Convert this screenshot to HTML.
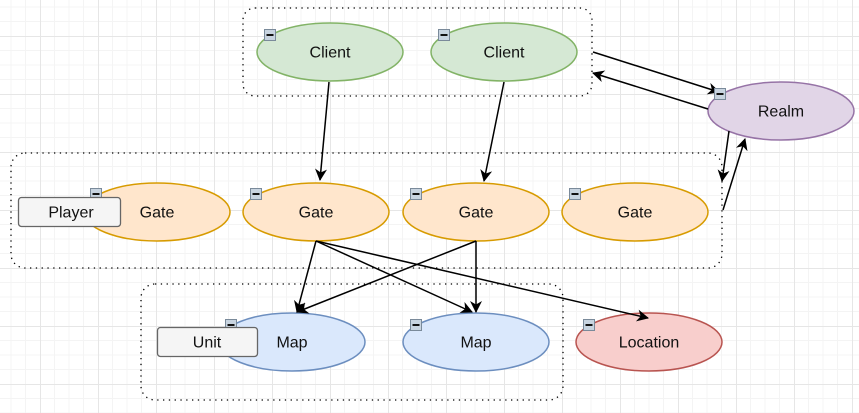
<!DOCTYPE html>
<html><head><style>
body{margin:0;background:#fff}
svg{display:block}
text{font-family:"Liberation Sans",sans-serif;font-size:16px;fill:#111;text-anchor:middle;dominant-baseline:central}
</style></head><body>
<svg width="859" height="413" viewBox="0 0 859 413" xmlns="http://www.w3.org/2000/svg">
<defs>
<pattern id="g" x="40" y="36" width="58" height="58" patternUnits="userSpaceOnUse">
<path d="M14.5 0V58M29 0V58M43.5 0V58M0 14.5H58M0 29H58M0 43.5H58" stroke="#f4f4f4" stroke-width="1"/>
<path d="M0.5 0V58M0 0.5H58" stroke="#e6e6e6" stroke-width="1"/>
</pattern>
<marker id="a" markerWidth="14" markerHeight="14" refX="11" refY="6" orient="auto" markerUnits="userSpaceOnUse">
<path d="M0 0L12 6L0 12L3.5 6Z" fill="#000"/>
</marker>
<g id="m"><rect x="0.5" y="0.5" width="11" height="11" fill="#c8d4e0" stroke="#7a8a9a"/><rect x="2.5" y="5" width="7" height="2" fill="#111"/></g>
</defs>
<rect width="859" height="413" fill="url(#g)"/>
<g fill="none" stroke="#000" stroke-width="1.3" stroke-dasharray="1.3 4.5">
<rect x="243" y="8" width="349" height="88" rx="12"/>
<rect x="11" y="153" width="711" height="115" rx="14"/>
<rect x="141" y="284" width="422" height="116" rx="14"/>
</g>
<g stroke-width="1.5">
<ellipse cx="330" cy="52" rx="73" ry="29" fill="#d5e8d4" stroke="#82b366"/>
<ellipse cx="504" cy="52" rx="73" ry="29" fill="#d5e8d4" stroke="#82b366"/>
<ellipse cx="781" cy="111" rx="73" ry="29" fill="#e1d5e7" stroke="#9673a6"/>
<ellipse cx="157" cy="212" rx="73" ry="29" fill="#ffe6cc" stroke="#d79b00"/>
<ellipse cx="316" cy="212" rx="73" ry="29" fill="#ffe6cc" stroke="#d79b00"/>
<ellipse cx="476" cy="212" rx="73" ry="29" fill="#ffe6cc" stroke="#d79b00"/>
<ellipse cx="635" cy="212" rx="73" ry="29" fill="#ffe6cc" stroke="#d79b00"/>
<ellipse cx="292" cy="342" rx="73" ry="29" fill="#dae8fc" stroke="#6c8ebf"/>
<ellipse cx="476" cy="342" rx="73" ry="29" fill="#dae8fc" stroke="#6c8ebf"/>
<ellipse cx="649" cy="342" rx="73" ry="29" fill="#f8cecc" stroke="#b85450"/>
</g>
<g stroke="#000" stroke-width="1.5" marker-end="url(#a)">
<line x1="329" y1="82" x2="320" y2="180"/>
<line x1="504" y1="82" x2="484" y2="181"/>
<line x1="593" y1="52" x2="719" y2="92"/>
<line x1="708" y1="109" x2="593" y2="73"/>
<line x1="729" y1="131" x2="722" y2="181"/>
<line x1="723" y1="210" x2="745" y2="139"/>
<line x1="316" y1="241" x2="297" y2="312"/>
<line x1="316" y1="241" x2="472" y2="312"/>
<line x1="316" y1="241" x2="648" y2="318"/>
<line x1="476" y1="241" x2="297" y2="312"/>
<line x1="476" y1="241" x2="476" y2="312"/>
</g>
<use href="#m" x="264" y="29"/>
<use href="#m" x="438" y="29"/>
<use href="#m" x="714" y="88"/>
<use href="#m" x="90" y="188"/>
<use href="#m" x="250" y="188"/>
<use href="#m" x="410" y="188"/>
<use href="#m" x="569" y="188"/>
<use href="#m" x="225" y="319"/>
<use href="#m" x="410" y="319"/>
<use href="#m" x="583" y="319"/>
<rect x="18.5" y="197.5" width="102" height="29" rx="3" fill="#f5f5f5" stroke="#666" stroke-width="1.3"/>
<rect x="157.5" y="327.5" width="100" height="29" rx="3" fill="#f5f5f5" stroke="#666" stroke-width="1.3"/>
<text x="330" y="53">Client</text>
<text x="504" y="53">Client</text>
<text x="781" y="112">Realm</text>
<text x="157" y="213">Gate</text>
<text x="316" y="213">Gate</text>
<text x="476" y="213">Gate</text>
<text x="635" y="213">Gate</text>
<text x="71" y="213">Player</text>
<text x="207" y="343">Unit</text>
<text x="292" y="343">Map</text>
<text x="476" y="343">Map</text>
<text x="649" y="343">Location</text>
</svg>
</body></html>
